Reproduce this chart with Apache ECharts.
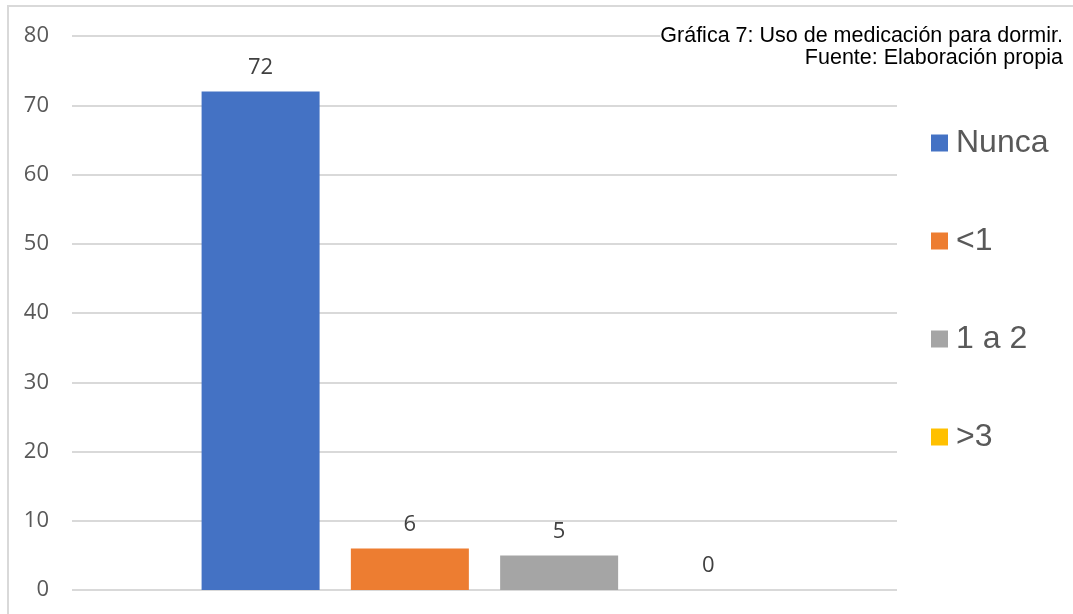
<!DOCTYPE html>
<html>
<head>
<meta charset="utf-8">
<style>
  html, body { margin: 0; padding: 0; background: #ffffff; }
  #chart { width: 1073px; height: 614px; }
</style>
<script src="https://cdn.jsdelivr.net/npm/echarts@6/dist/echarts.min.js"></script>
</head>
<body>
<div id="chart"></div>
<script>
// Frecuencia de uso de medicación para dormir
const seriesNames = ['Nunca', '<1', '1 a 2', '>3'];
const seriesValues = [72, 6, 5, 0];
const seriesColors = ['#4472C4', '#ED7D31', '#A5A5A5', '#FFC000'];
const categories = [''];
const yTicks = { min: 0, max: 80, interval: 10 };
const titleLines = ['Gráfica 7: Uso de medicación para dormir.', 'Fuente: Elaboración propia'];

const chart = echarts.init(document.getElementById('chart'), null, { renderer: 'canvas' });

const series = seriesNames.map((name, i) => ({
  name: name,
  type: 'bar',
  data: [seriesValues[i]],
  barWidth: 118,
  barGap: '26.5%',
  itemStyle: { color: seriesColors[i] },
  label: {
    show: true,
    position: 'top',
    distance: 13,
    color: '#404040',
    fontFamily: 'Open Sans',
    fontSize: 22
  },
  z: 2
}));

chart.setOption({
  animation: false,
  backgroundColor: '#ffffff',
  graphic: [
    {
      type: 'polyline',
      shape: { points: [[8, 614], [8, 6], [1073, 6]] },
      style: { stroke: '#d9d9d9', lineWidth: 2, fill: null },
      silent: true,
      z: 0
    },
    {
      type: 'text',
      x: 1063,
      y: 25,
      z: 100,
      silent: true,
      style: {
        text: titleLines.join('\n'),
        align: 'right',
        verticalAlign: 'top',
        fontFamily: 'Liberation Sans',
        fontSize: 21.5,
        lineHeight: 22,
        fill: '#000000',
        backgroundColor: '#ffffff'
      }
    }
  ],
  legend: {
    orient: 'vertical',
    left: 931,
    top: 125,
    padding: 0,
    itemWidth: 17,
    itemHeight: 17,
    itemGap: 62,
    icon: 'rect',
    data: seriesNames,
    textStyle: {
      fontFamily: 'Liberation Sans',
      fontSize: 32,
      color: '#595959',
      lineHeight: 36,
      padding: [0, 0, 0, 3]
    }
  },
  grid: {
    left: 72,
    right: 176,
    top: 36,
    bottom: 24,
    containLabel: false
  },
  xAxis: {
    type: 'category',
    data: categories,
    axisLine: { show: false },
    axisTick: { show: false },
    axisLabel: { show: false }
  },
  yAxis: {
    type: 'value',
    min: yTicks.min,
    max: yTicks.max,
    interval: yTicks.interval,
    axisLine: { show: false },
    axisTick: { show: false },
    axisLabel: {
      color: '#595959',
      fontFamily: 'Open Sans',
      fontSize: 22,
      margin: 23
    },
    splitLine: { lineStyle: { color: '#d9d9d9', width: 2 } }
  },
  series: series
});
</script>
</body>
</html>
